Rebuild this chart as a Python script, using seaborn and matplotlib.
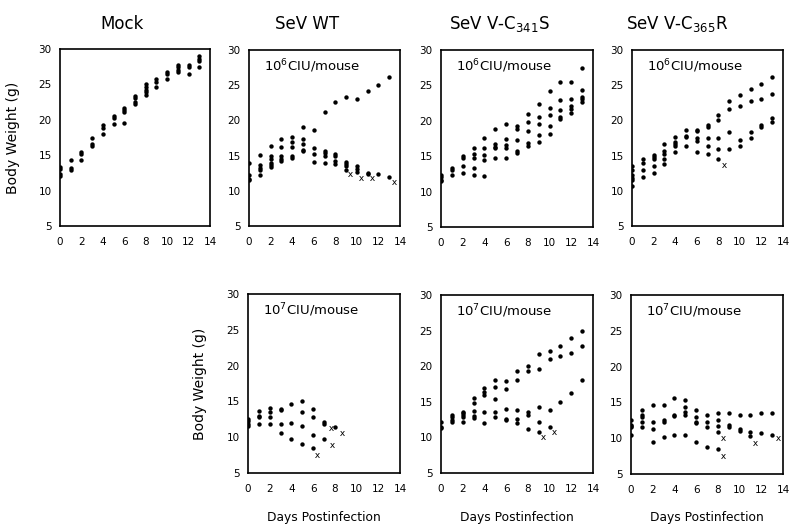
import matplotlib
matplotlib.use("Agg")
import matplotlib.pyplot as plt
import seaborn as sns
import pandas as pd

sns.set_theme(style="white")
plt.rcParams['font.family'] = ['DejaVu Sans']
plt.rcParams['mathtext.default'] = 'regular'

days = list(range(14))

# Body weight (g) per day (index = day postinfection)
mock_wt = [[13.4, 13.0, 12.3, 12.0], [14.3, 13.2, 12.9], [15.5, 15.2, 14.3],
           [17.4, 16.6, 16.3], [19.3, 18.9, 18.0], [20.6, 20.2, 19.4],
           [21.7, 21.4, 21.1, 19.6], [23.4, 23.1, 22.5, 22.3],
           [25.0, 24.6, 24.2, 23.9, 23.5], [25.8, 25.4, 24.7], [26.7, 26.4, 25.8],
           [27.8, 27.4, 27.1, 26.7], [27.8, 27.4, 26.5], [29.0, 28.6, 28.3, 27.5]]

wt6_wt = [[14.0, 12.3, 11.7, 11.5], [15.1, 13.7, 13.3, 12.9, 12.3],
          [16.3, 15.0, 14.5, 14.0, 13.6, 13.4], [17.4, 16.2, 14.9, 14.5, 14.2],
          [17.6, 17.0, 16.2, 14.9, 14.6], [19.0, 17.4, 16.6, 15.8, 15.6],
          [18.7, 16.1, 15.2, 14.1], [21.2, 15.6, 15.3, 15.0, 14.0],
          [22.6, 15.2, 15.0, 14.3, 13.8], [23.3, 14.1, 13.8, 13.5, 13.0],
          [23.0, 13.5, 13.1, 12.7], [24.2, 12.5, 12.4], [25.0, 12.4], [26.1, 12.0]]
wt6_dead_day = [9.4, 10.4, 11.4, 13.45]
wt6_dead_wt = [12.4, 11.8, 11.8, 11.2]

c341_6_wt = [[12.3, 12.0, 11.7, 11.5], [13.3, 13.0, 12.3], [15.0, 14.7, 13.6, 12.6],
             [16.1, 15.3, 14.7, 13.3, 12.4], [17.6, 16.2, 15.1, 14.4, 12.2],
             [18.9, 16.7, 16.3, 16.2, 14.7], [19.6, 17.5, 16.6, 16.2, 14.7],
             [19.2, 18.8, 17.3, 15.8, 15.5], [21.0, 19.9, 18.6, 16.8, 16.5],
             [22.4, 20.6, 19.6, 18.0, 17.0], [24.2, 21.8, 20.8, 19.2, 18.2],
             [25.5, 22.9, 21.5, 20.5, 20.2], [25.5, 23.1, 22.1, 21.7, 21.1],
             [27.4, 24.3, 23.4, 23.1, 22.6]]

c365_6_wt = [[13.5, 13.0, 12.2, 11.8, 11.5, 10.7], [14.5, 13.9, 13.0, 11.9],
             [15.1, 14.8, 14.5, 13.5, 12.5], [16.7, 15.6, 15.2, 14.5, 13.8],
             [17.7, 17.0, 16.6, 16.3, 15.5], [18.7, 17.8, 17.6, 16.3],
             [18.7, 18.5, 17.5, 17.1, 15.5], [19.4, 19.0, 17.5, 16.4, 15.2],
             [20.7, 20.1, 17.5, 16.0, 14.5], [22.7, 21.6, 18.3, 15.9],
             [23.6, 22.0, 17.2, 16.4], [24.4, 22.8, 18.3, 17.5],
             [25.1, 23.0, 19.3, 19.0], [26.2, 23.8, 20.4, 19.8]]
c365_6_dead_day = [8.5]
c365_6_dead_wt = [13.7]

wt7_wt = [[12.6, 12.2, 11.9, 11.6], [13.6, 13.0, 12.8, 11.9], [14.1, 13.5, 12.8, 11.9],
          [14.0, 13.8, 11.9, 10.6], [14.6, 12.0, 9.7], [15.0, 13.5, 11.6, 9.1],
          [13.9, 12.8, 10.3, 8.5], [12.1, 11.9, 9.7], [11.4],
          [], [], [], [], []]
wt7_dead_day = [6.4, 7.65, 7.7, 8.65]
wt7_dead_wt = [7.5, 11.3, 8.9, 10.6]

c341_7_wt = [[12.2, 11.5, 11.3], [13.1, 12.9, 12.5, 12.2], [13.6, 13.4, 13.2, 12.9, 12.2],
             [15.5, 14.8, 13.7, 13.0, 12.7], [16.9, 16.4, 15.9, 13.6, 12.0],
             [18.1, 17.1, 15.4, 13.6, 12.9], [17.9, 16.8, 14.0, 12.6, 12.4],
             [19.3, 18.1, 13.9, 12.6, 12.0], [20.0, 19.3, 13.5, 13.2, 11.2],
             [21.7, 19.6, 14.3, 12.2, 10.8], [22.1, 21.0, 13.8, 11.4],
             [22.9, 21.4, 15.0], [24.0, 21.8, 16.2], [24.9, 22.9, 18.1]]
c341_7_dead_day = [9.4, 10.45]
c341_7_dead_wt = [10.0, 10.7]

c365_7_wt = [[12.6, 11.9, 11.7, 11.5, 10.4], [14.0, 13.2, 13.0, 12.2, 11.6],
             [14.6, 12.3, 11.3, 9.5], [14.6, 12.6, 12.3, 10.2], [15.6, 13.3, 13.1, 10.4],
             [15.3, 14.4, 13.7, 13.3, 10.4], [13.9, 13.0, 12.3, 12.1, 9.5],
             [13.3, 12.3, 11.6, 8.8], [13.5, 12.5, 11.7, 10.9, 8.5],
             [13.5, 11.9, 11.5], [13.3, 11.3, 11.0], [13.3, 10.9, 10.3],
             [13.5, 10.7], [13.5, 10.5]]
c365_7_dead_day = [8.5, 8.5, 11.45, 13.5]
c365_7_dead_wt = [10.0, 7.5, 9.3, 10.0]

titles = ["Mock", "SeV WT", "SeV V-C$_{341}$S", "SeV V-C$_{365}$R"]
x_ticks = [0, 2, 4, 6, 8, 10, 12, 14]
y_ticks = [5, 10, 15, 20, 25, 30]


def to_df(wlist):
    rows = [(d, w) for d, ws in zip(days, wlist) for w in ws]
    return pd.DataFrame(rows, columns=["day", "weight"])


W, H = 800, 532
fig = plt.figure(figsize=(W / 100, H / 100), dpi=100)


def make_ax(l, r, t, b):
    return fig.add_axes([l / W, 1 - b / H, (r - l) / W, (b - t) / H])


panels = [
    (make_ax(60, 210, 49, 226), mock_wt, None, None, None),
    (make_ax(249, 400, 50, 226), wt6_wt, wt6_dead_day, wt6_dead_wt, "10$^6$CIU/mouse"),
    (make_ax(441, 593, 50, 227), c341_6_wt, None, None, "10$^6$CIU/mouse"),
    (make_ax(632, 783, 50, 226), c365_6_wt, c365_6_dead_day, c365_6_dead_wt, "10$^6$CIU/mouse"),
    (make_ax(248, 400, 294, 473), wt7_wt, wt7_dead_day, wt7_dead_wt, "10$^7$CIU/mouse"),
    (make_ax(441, 593, 295, 473), c341_7_wt, c341_7_dead_day, c341_7_dead_wt, "10$^7$CIU/mouse"),
    (make_ax(631, 783, 295, 474), c365_7_wt, c365_7_dead_day, c365_7_dead_wt, "10$^7$CIU/mouse"),
]

for i, (ax, wl, dd, dw, ann) in enumerate(panels):
    df = to_df(wl)
    sns.scatterplot(data=df, x="day", y="weight", ax=ax, color="black", s=10,
                    linewidth=0, legend=False)
    if dd:
        sns.scatterplot(x=dd, y=dw, ax=ax, color="black", marker="$x$", s=13,
                        linewidth=0, legend=False)
    ax.set_xlim(0, 14)
    ax.set_ylim(5, 30)
    ax.set_xticks(x_ticks)
    ax.set_yticks(y_ticks)
    ax.tick_params(axis="x", direction="in", length=3, width=1, pad=8, labelsize=7.5,
                   colors="black")
    ax.tick_params(axis="y", direction="in", length=0, pad=6, labelsize=7.5,
                   colors="black")
    ax.set_xlabel("")
    ax.set_ylabel("")
    for s in ax.spines.values():
        s.set_color("black")
        s.set_linewidth(1.2)
    if ann:
        ax.text(0.1, 0.91, ann, transform=ax.transAxes, fontsize=9.5, va="center",
                ha="left", color="black")

# Column titles
for xc, t in zip([122, 307, 499, 677], titles):
    fig.text(xc / W, 1 - 24 / H, t, ha="center", va="center", fontsize=12,
             color="black")

# Y labels
fig.text(13 / W, 1 - 138 / H, "Body Weight (g)", rotation=90, ha="center",
         va="center", fontsize=10, color="black")
fig.text(200 / W, 1 - 384 / H, "Body Weight (g)", rotation=90, ha="center",
         va="center", fontsize=10, color="black")

# X labels
for xc in [324, 517, 707]:
    fig.text(xc / W, 1 - 517 / H, "Days Postinfection", ha="center", va="center",
             fontsize=8.8, color="black")

fig.savefig("out.png", dpi=100)
